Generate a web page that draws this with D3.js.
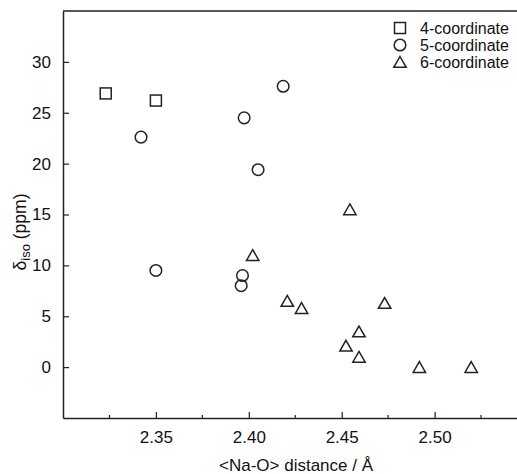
<!DOCTYPE html>
<html>
<head>
<meta charset="utf-8">
<script src="https://cdn.jsdelivr.net/npm/d3@7"></script>
<style>
  body { margin: 0; background: #fff; }
  svg { display: block; font-family: "Liberation Sans", Arial, sans-serif; }
</style>
</head>
<body>
<svg id="chart" width="517" height="474"></svg>
<script>
// data
var four_x = [2.323, 2.350];
var four_y = [26.9, 26.2];
var five_x = [2.342, 2.4185, 2.3975, 2.405, 2.350, 2.3966, 2.3959];
var five_y = [22.6, 27.6, 24.5, 19.4, 9.5, 9.0, 8.0];
var six_x = [2.4544, 2.4021, 2.4207, 2.4284, 2.4731, 2.4593, 2.4523, 2.4593, 2.4918, 2.5197];
var six_y = [15.5, 11.0, 6.5, 5.8, 6.3, 3.5, 2.1, 1.0, 0.0, 0.0];
var xTicks = [2.35, 2.40, 2.45, 2.50];
var xMinor = [2.325, 2.375, 2.425, 2.475, 2.525];
var yTicks = [0, 5, 10, 15, 20, 25, 30];
var legendLabels = ['4-coordinate', '5-coordinate', '6-coordinate'];

var svg = d3.select('#chart');
var mLeft = 63, mRight = 527.5, mTop = 11, mBottom = 418;
var ink = '#222';

var x = d3.scaleLinear().domain([2.30, 2.55]).range([mLeft, mRight]);
var y = d3.scaleLinear().domain([-5, 35]).range([mBottom, mTop]);

// frame: left, bottom and top
svg.append('line').attr('x1', mLeft).attr('x2', 517).attr('y1', mTop).attr('y2', mTop)
    .attr('stroke', ink).attr('stroke-width', 1.5);

var yAxis = svg.append('g').attr('transform', 'translate(' + mLeft + ',0)')
    .call(d3.axisLeft(y).tickValues(yTicks).tickSizeInner(-6).tickSizeOuter(0).tickPadding(12));
var xAxis = svg.append('g').attr('transform', 'translate(0,' + mBottom + ')')
    .call(d3.axisBottom(x).tickValues(xTicks).tickFormat(d3.format('.2f')).tickSizeInner(-6).tickSizeOuter(0).tickPadding(13));

// minor ticks on x
svg.append('g').selectAll('line').data(xMinor).enter().append('line')
    .attr('x1', d => x(d)).attr('x2', d => x(d))
    .attr('y1', mBottom).attr('y2', mBottom - 3)
    .attr('stroke', ink).attr('stroke-width', 1.2);

[yAxis, xAxis].forEach(function (a) {
    a.select('.domain').attr('stroke', ink).attr('stroke-width', 1.5);
    a.selectAll('.tick line').attr('stroke', ink).attr('stroke-width', 1.2);
    a.selectAll('.tick text').attr('fill', '#111').style('font-size', '17px')
        .style('font-family', '"Liberation Sans", Arial, sans-serif');
});

// axis titles
svg.append('text').attr('x', 296).attr('y', 471)
    .attr('text-anchor', 'middle').attr('fill', '#111').style('font-size', '17px')
    .text('<Na-O> distance / Å');

var yl = svg.append('text').attr('transform', 'translate(26,232) rotate(-90)')
    .attr('text-anchor', 'middle').attr('fill', '#111').style('font-size', '17.5px');
yl.append('tspan').text('δ');
yl.append('tspan').attr('dy', 4).style('font-size', '13px').text('iso');
yl.append('tspan').attr('dy', -4).text(' (ppm)');

// markers
function square(g, cx, cy) {
    g.append('rect').attr('x', cx - 5.5).attr('y', cy - 5.5).attr('width', 11).attr('height', 11)
        .attr('fill', 'none').attr('stroke', ink).attr('stroke-width', 1.5);
}
function circle(g, cx, cy) {
    g.append('circle').attr('cx', cx).attr('cy', cy).attr('r', 5.8)
        .attr('fill', 'none').attr('stroke', ink).attr('stroke-width', 1.5);
}
function triangle(g, cx, cy) {
    g.append('path').attr('d', 'M' + cx + ',' + (cy - 5.5) + 'L' + (cx + 6.2) + ',' + (cy + 5.3) + 'L' + (cx - 6.2) + ',' + (cy + 5.3) + 'Z')
        .attr('fill', 'none').attr('stroke', ink).attr('stroke-width', 1.5).attr('stroke-linejoin', 'miter');
}

var pts = svg.append('g');
four_x.forEach(function (d, i) { square(pts, x(d), y(four_y[i])); });
five_x.forEach(function (d, i) { circle(pts, x(d), y(five_y[i])); });
six_x.forEach(function (d, i) { triangle(pts, x(d), y(six_y[i])); });

// legend
var legend = svg.append('g');
var drawers = [square, circle, triangle];
legendLabels.forEach(function (t, i) {
    var ly = 28 + i * 17;
    drawers[i](legend, 400, ly);
    legend.append('text').attr('x', 420).attr('y', ly + 5.5).attr('fill', '#111')
        .style('font-size', '16px').text(t);
});
</script>
</body>
</html>
